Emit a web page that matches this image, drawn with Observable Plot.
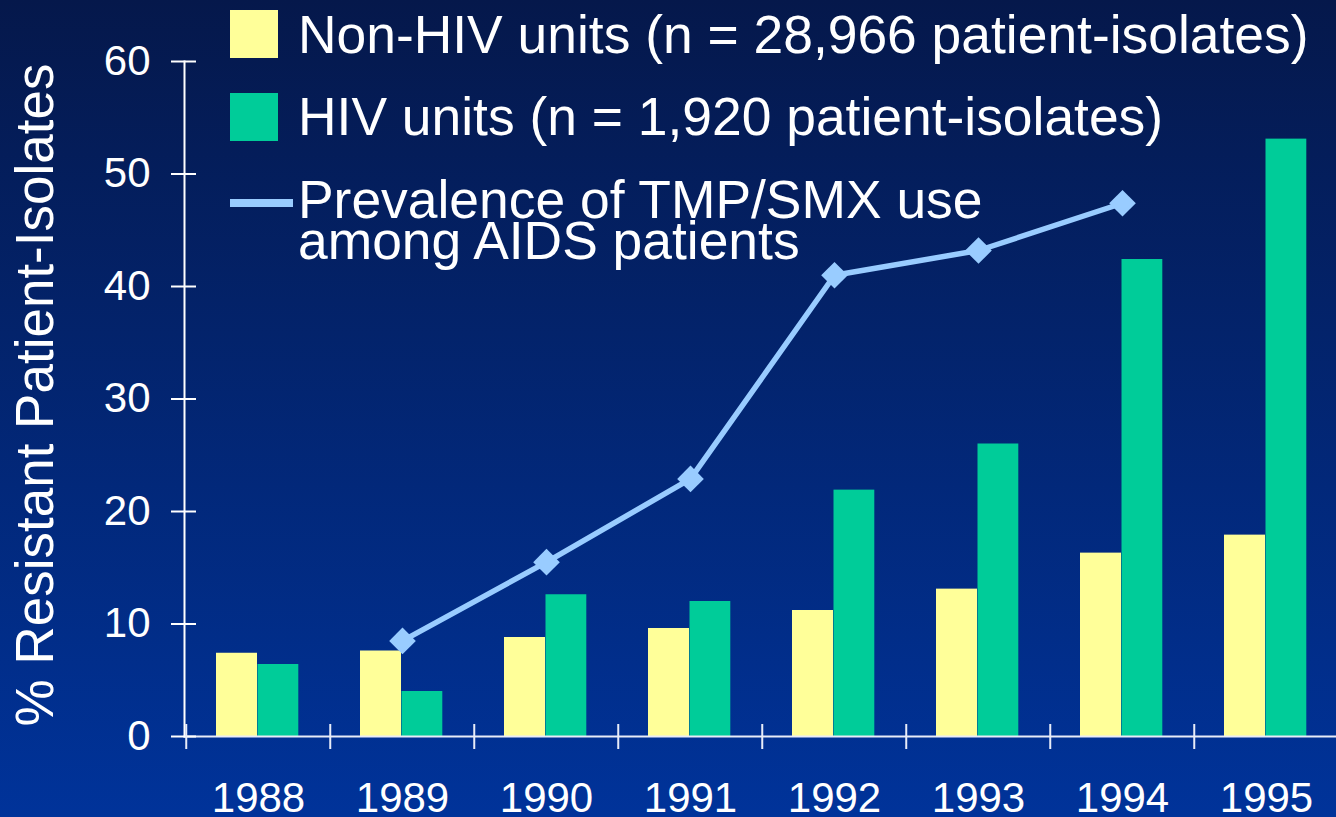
<!DOCTYPE html>
<html><head><meta charset="utf-8">
<script src="https://cdn.jsdelivr.net/npm/d3@7"></script>
<script src="https://cdn.jsdelivr.net/npm/@observablehq/plot@0.6"></script>
<style>
html,body{margin:0;padding:0;overflow:hidden;background:#06194d;}
#chart{position:relative;width:1336px;height:817px;background:linear-gradient(to bottom,#05184b 0%,#00339a 100%);font-family:"Liberation Sans",Arial,sans-serif;color:#fff;}
#chart svg{position:absolute;left:0;top:0;}
.sw{position:absolute;left:230px;width:48px;height:48px;}
.lt{position:absolute;left:298px;font-size:53.4px;line-height:53px;white-space:nowrap;}
</style></head><body><div id="chart"></div>
<script>
const years = ["1988","1989","1990","1991","1992","1993","1994","1995"];
const nonHiv = [7.4, 7.6, 8.8, 9.6, 11.2, 13.1, 16.3, 17.9];
const hiv = [6.4, 4.0, 12.6, 12.0, 21.9, 26.0, 42.4, 53.1];
const tmpYears = ["1989","1990","1991","1992","1993","1994"];
const tmpSmx = [8.5, 15.5, 22.9, 41.0, 43.2, 47.4];
const yTicks = [0, 10, 20, 30, 40, 50, 60];
const seriesLabels = ["Non-HIV units (n = 28,966 patient-isolates)", "HIV units (n = 1,920 patient-isolates)"];
const lineLabel = ["Prevalence of TMP/SMX use", "among AIDS patients"];
const yLabel = "% Resistant Patient-Isolates";
const colors = ["#ffff99", "#00cc99", "#99ccff"];

const barsA = years.map((y, i) => ({year: y, value: nonHiv[i]}));
const barsB = years.map((y, i) => ({year: y, value: hiv[i]}));
const lineData = tmpYears.map((y, i) => ({year: y, value: tmpSmx[i]}));

const W = 1336, H = 817, ML = 184, MT = 61, MB = 81;
const xRange = [184, 1340];
const bw = (xRange[1] - xRange[0]) / years.length;

const plot = Plot.plot({
  width: W, height: H,
  marginLeft: ML, marginRight: 0, marginTop: MT, marginBottom: MB,
  style: {background: "none", fontFamily: "'Liberation Sans', Arial, sans-serif", color: "#fff", overflow: "visible"},
  x: {domain: years, range: xRange, padding: 0, label: null},
  y: {domain: [0, 60], label: null},
  marks: [
    Plot.barY(barsA, {x: "year", y: "value", fill: colors[0], insetLeft: 30, insetRight: bw - 30 - 41.5}),
    Plot.barY(barsB, {x: "year", y: "value", fill: colors[1], insetLeft: 71.5, insetRight: bw - 71.5 - 41.3}),
    Plot.frame({anchor: "left", stroke: "#ffffff", strokeWidth: 2}),
    Plot.frame({anchor: "bottom", stroke: "#e8ecf8", strokeWidth: 2}),
    Plot.axisY(yTicks, {anchor: "left", tickSize: 25, dx: 12, tickPadding: 21, fontSize: 42, stroke: "#ffffff", strokeWidth: 2, fill: "#ffffff", label: null}),
    Plot.axisX(years, {anchor: "bottom", tickSize: 25, dy: -12, dx: -bw / 2, stroke: "#e8ecf8", strokeWidth: 2, fill: "none", label: null}),
    Plot.axisX(years, {anchor: "bottom", tickSize: 0, tickPadding: 46, fontSize: 42, fill: "#ffffff", label: null}),
    Plot.line(lineData, {x: "year", y: "value", stroke: colors[2], strokeWidth: 5.5}),
    Plot.dot(lineData, {x: "year", y: "value", symbol: "diamond2", r: 12, fill: colors[2], stroke: "none"}),
    Plot.text([yLabel], {frameAnchor: "left", rotate: -90, dx: 52 - ML, dy: -4, lineAnchor: "bottom", textAnchor: "middle", fontSize: 53, fill: "#ffffff"})
  ]
});
const chart = document.getElementById("chart");
chart.appendChild(plot);

function addDiv(cls, css, text) {
  const d = document.createElement("div");
  d.className = cls;
  Object.assign(d.style, css);
  if (text != null) d.textContent = text;
  chart.appendChild(d);
  return d;
}
addDiv("sw", {top: "10px", background: colors[0]});
addDiv("sw", {top: "93px", background: colors[1]});
addDiv("sw", {top: "199px", left: "230px", width: "63px", height: "8px", background: colors[2]});
addDiv("lt", {top: "8px"}, seriesLabels[0]);
addDiv("lt", {top: "90px"}, seriesLabels[1]);
const l3 = addDiv("lt", {top: "179px", lineHeight: "41px"});
l3.innerHTML = lineLabel.join("<br>");
</script></body></html>
